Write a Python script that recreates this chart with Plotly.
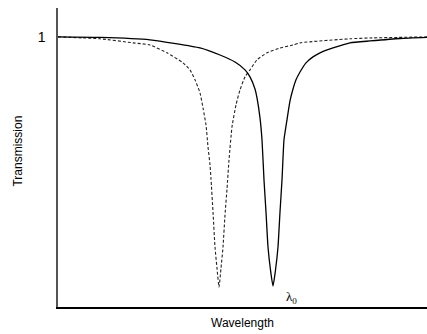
import plotly.graph_objects as go

# Wavelength (arbitrary units) and transmission readings
solid_wl = [0, 42, 92, 142, 162, 177, 187, 192, 197, 199, 202, 204, 206, 208, 210,
            212.5, 215, 217.5, 220, 222, 224, 226, 229, 232, 235, 238, 242, 248,
            255, 262, 275, 292, 312, 342, 369]
solid_t = [1.000, 0.998, 0.989, 0.959, 0.933, 0.907, 0.878, 0.852, 0.807, 0.774,
           0.700, 0.619, 0.470, 0.352, 0.222, 0.137, 0.078, 0.137, 0.222, 0.352,
           0.470, 0.619, 0.693, 0.763, 0.807, 0.841, 0.870, 0.904, 0.926, 0.941,
           0.959, 0.978, 0.985, 0.994, 0.998]

dash_wl = [0, 42, 75, 92, 109, 125, 132, 137, 142, 145, 148, 150, 152, 153, 155,
           157, 159, 161, 163, 165, 167, 169, 171, 174, 178, 182, 187, 192, 199,
           209, 222, 235, 242, 292, 312, 369]
dash_t = [1.000, 0.993, 0.978, 0.970, 0.941, 0.904, 0.878, 0.841, 0.793, 0.737,
          0.674, 0.593, 0.526, 0.474, 0.352, 0.222, 0.144, 0.074, 0.144, 0.222,
          0.341, 0.437, 0.544, 0.667, 0.748, 0.804, 0.852, 0.878, 0.915, 0.941,
          0.959, 0.970, 0.978, 0.993, 0.996, 1.000]

y_ticks = [1]
y_ticktext = ["1"]

fig = go.Figure()
fig.add_trace(go.Scatter(x=dash_wl, y=dash_t, mode="lines",
                         line=dict(color="#222", width=1.1, dash="3px,2px",
                                   shape="spline", smoothing=0.5),
                         showlegend=False, hoverinfo="skip"))
fig.add_trace(go.Scatter(x=solid_wl, y=solid_t, mode="lines",
                         line=dict(color="black", width=1.3,
                                   shape="spline", smoothing=0.5),
                         showlegend=False, hoverinfo="skip"))

fig.add_annotation(x=233, y=0.037, xref="x", yref="y",
                   text="λ<sub>0</sub>", showarrow=False,
                   font=dict(family="Liberation Serif", size=13, color="black"))
fig.add_annotation(x=0.5, y=-0.054, xref="paper", yref="paper",
                   xanchor="center", yanchor="middle",
                   text="Wavelength", showarrow=False,
                   font=dict(family="Liberation Sans", size=12, color="black"))
fig.add_annotation(x=-0.111, y=0.52, xref="paper", yref="paper",
                   xanchor="center", yanchor="middle",
                   text="Transmission", showarrow=False, textangle=-90,
                   font=dict(family="Liberation Sans", size=12, color="black"))

fig.update_layout(
    width=427, height=334,
    margin=dict(l=58, r=0, t=8, b=27),
    paper_bgcolor="white", plot_bgcolor="white",
    xaxis=dict(range=[0, 369], showgrid=False, zeroline=False, showticklabels=False,
               ticks="", showline=True, linecolor="black", linewidth=1.5),
    yaxis=dict(range=[0, 1.107], showgrid=False, zeroline=False,
               tickmode="array", tickvals=y_ticks, ticktext=y_ticktext, ticks="",
               ticklabelstandoff=8,
               tickfont=dict(family="Liberation Sans", size=14, color="black"),
               showline=True, linecolor="#555", linewidth=1.5),
)

fig.write_html("out.html")
